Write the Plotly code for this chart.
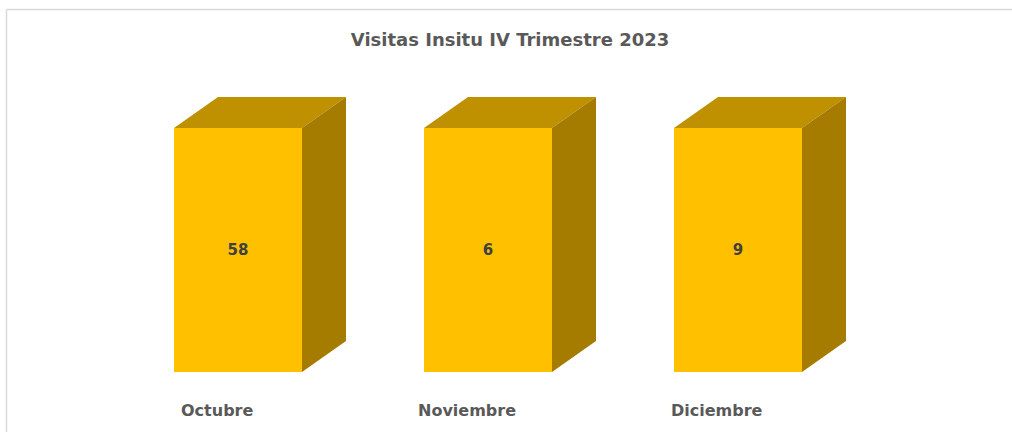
import plotly.graph_objects as go

categories = ["Octubre", "Noviembre", "Diciembre"]
visitas = [58, 6, 9]
title_text = "Visitas Insitu IV Trimestre 2023"

# 100% stacked column (single series) -> every column reaches 100 %
heights = [100.0 * v / v for v in visitas]

pos = list(range(len(categories)))
bar_w = 0.512
dx = 0.176   # depth offset (x units)
dy = 12.7    # depth offset (y units)

front = "#FFC000"
top_c = "#BF9000"
side_c = "#A67C00"

fig = go.Figure()

fig.add_trace(go.Bar(
    x=pos, y=visitas, width=bar_w,
    marker=dict(color=front, line=dict(width=0)),
    text=[str(v) for v in visitas],
    textposition="inside", insidetextanchor="middle",
    textfont=dict(family="DejaVu Sans", size=15, color="#404040"),
    texttemplate="<b>%{text}</b>",
    hoverinfo="skip",
))

tx, ty, sx, sy = [], [], [], []
for p, h in zip(pos, heights):
    l, r = p - bar_w / 2, p + bar_w / 2
    tx += [l, r, r + dx, l + dx, l, None]
    ty += [h, h, h + dy, h + dy, h, None]
    sx += [r, r + dx, r + dx, r, r, None]
    sy += [0, dy, h + dy, h, 0, None]

fig.add_trace(go.Scatter(x=tx, y=ty, fill="toself", fillcolor=top_c, mode="lines",
                         line=dict(width=0, color=top_c), hoverinfo="skip"))
fig.add_trace(go.Scatter(x=sx, y=sy, fill="toself", fillcolor=side_c, mode="lines",
                         line=dict(width=0, color=side_c), hoverinfo="skip"))

for p, c in zip(pos, categories):
    fig.add_annotation(x=p - 0.084, y=-15.6, text="<b>" + c + "</b>", showarrow=False,
                       font=dict(family="DejaVu Sans", size=16, color="#595959"),
                       xanchor="center", yanchor="middle")

fig.update_layout(
    width=1012, height=432,
    margin=dict(l=0, r=0, t=0, b=0),
    paper_bgcolor="white", plot_bgcolor="white",
    barmode="stack", barnorm="percent",
    showlegend=False,
    title=dict(text="<b>" + title_text + "</b>", x=0.504, xanchor="center",
               y=1 - 40 / 432, yanchor="middle",
               font=dict(family="DejaVu Sans", size=18, color="#595959")),
    xaxis=dict(range=[-0.952, 3.096], visible=False, fixedrange=True),
    yaxis=dict(range=[-24.59, 152.46], visible=False, fixedrange=True),
    shapes=[
        dict(type="line", xref="paper", yref="paper", x0=6.5 / 1012, x1=1, y0=1 - 9.5 / 432, y1=1 - 9.5 / 432,
             line=dict(color="#D9D9D9", width=1.5)),
        dict(type="line", xref="paper", yref="paper", x0=6.5 / 1012, x1=6.5 / 1012, y0=0, y1=1 - 9.5 / 432,
             line=dict(color="#D9D9D9", width=1.5)),
    ],
)

fig.write_html("out.html", config={"displayModeBar": False},
               post_script="document.body.style.margin='0';document.body.style.overflow='hidden';")
